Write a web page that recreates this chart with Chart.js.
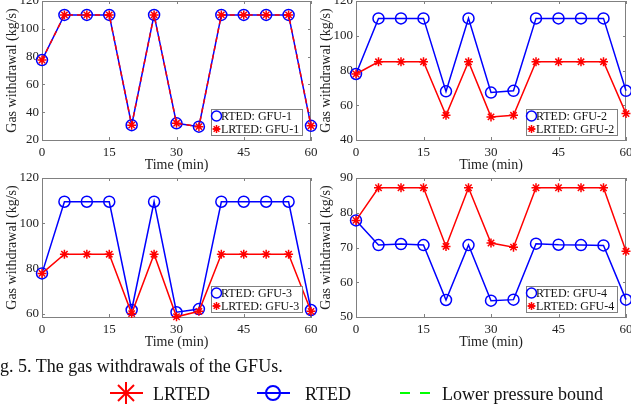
<!DOCTYPE html>
<html>
<head>
<meta charset="utf-8">
<script src="https://cdn.jsdelivr.net/npm/chart.js@4"></script>
<style>
  body { margin: 0; background: #fff; width: 631px; height: 410px; overflow: hidden; position: relative;
         font-family: 'Liberation Serif', 'Times New Roman', serif; color: #111; }
  canvas { position: absolute; }
  .txt { position: absolute; font-size: 18px; line-height: 18px; white-space: nowrap; }
  svg { position: absolute; left: 0; top: 0; }
</style>
</head>
<body>
<canvas id="c1" width="320" height="175" style="left:0;top:0"></canvas>
<canvas id="c2" width="317" height="175" style="left:314px;top:0"></canvas>
<canvas id="c3" width="320" height="184" style="left:0;top:168px"></canvas>
<canvas id="c4" width="317" height="184" style="left:314px;top:168px"></canvas>

<div class="txt" style="left:0;top:357px">g. 5. The gas withdrawals of the GFUs.</div>

<svg width="631" height="410">
  <g stroke="#ff0000" stroke-width="2">
    <line x1="110" y1="393" x2="143" y2="393"/>
    <line x1="126" y1="382" x2="126" y2="404"/>
    <line x1="118" y1="385" x2="134" y2="401"/>
    <line x1="118" y1="401" x2="134" y2="385"/>
  </g>
  <g stroke="#0000ff" stroke-width="2" fill="none">
    <line x1="257" y1="393" x2="290" y2="393"/>
    <circle cx="273" cy="393" r="7"/>
  </g>
  <g stroke="#00ff00" stroke-width="2">
    <line x1="400" y1="393" x2="410" y2="393"/>
    <line x1="420" y1="393" x2="430" y2="393"/>
  </g>
</svg>
<div class="txt" style="left:153px;top:385px">LRTED</div>
<div class="txt" style="left:305px;top:385px">RTED</div>
<div class="txt" style="left:442px;top:385px">Lower pressure bound</div>

<script>
// DATA
const times = [0, 5, 10, 15, 20, 25, 30, 35, 40, 45, 50, 55, 60];
const xTicks = [0, 15, 30, 45, 60];

const rted1  = [77.5, 110, 110, 110, 30.7, 110, 32, 29.6, 110, 110, 110, 110, 30.2];
const lrted1 = [77.5, 110, 110, 110, 30.7, 110, 32, 29.6, 110, 110, 110, 110, 30.2];
const yTicks1 = [20, 40, 60, 80, 100, 120];

const rted2  = [78, 110, 110, 110, 68, 110, 67.3, 68.3, 110, 110, 110, 110, 68.3];
const lrted2 = [78, 85, 85, 85, 54.2, 85, 53.3, 54.2, 85, 85, 85, 85, 55.2];
const yTicks2 = [40, 60, 80, 100, 120];

const rted3  = [77.8, 109.5, 109.5, 109.5, 61.6, 109.5, 60.6, 62, 109.5, 109.5, 109.5, 109.5, 61.6];
const lrted3 = [77.8, 86.3, 86.3, 86.3, 60, 86.3, 58.6, 61, 86.3, 86.3, 86.3, 86.3, 61];
const yTicks3 = [60, 80, 100, 120];

const rted4  = [77.8, 70.7, 71, 70.7, 54.9, 70.7, 54.7, 55, 71.1, 70.8, 70.7, 70.6, 55];
const lrted4 = [77.8, 87.2, 87.2, 87.2, 70.3, 87.2, 71.3, 70.1, 87.2, 87.2, 87.2, 87.2, 68.9];
const yTicks4 = [50, 60, 70, 80, 90];

// STYLE
const FONT = "'Liberation Serif', 'Times New Roman', serif";
const AXIS = "#808080";
Chart.defaults.font.family = FONT;
Chart.defaults.color = "#222";

// box round the plot and inward ticks on all four sides
const framePlugin = {
    id: "frame",
    beforeDatasetsDraw(chart) {
        const { ctx, chartArea: a, scales } = chart;
        ctx.save();
        ctx.strokeStyle = AXIS;
        ctx.lineWidth = 1;
        ctx.beginPath();
        ctx.moveTo(a.left, a.top + 0.5); ctx.lineTo(a.right, a.top + 0.5);
        ctx.moveTo(a.right - 0.5, a.top); ctx.lineTo(a.right - 0.5, a.bottom);
        scales.x.ticks.forEach(t => {
            const x = Math.round(scales.x.getPixelForValue(t.value)) + 0.5;
            ctx.moveTo(x, a.bottom); ctx.lineTo(x, a.bottom - 3);
            ctx.moveTo(x, a.top); ctx.lineTo(x, a.top + 3);
        });
        scales.y.ticks.forEach(t => {
            const y = Math.round(scales.y.getPixelForValue(t.value)) + 0.5;
            ctx.moveTo(a.left, y); ctx.lineTo(a.left + 3, y);
            ctx.moveTo(a.right, y); ctx.lineTo(a.right - 3, y);
        });
        ctx.stroke();
        ctx.restore();
    }
};

// legend box in the lower right corner of the plot
const boxLegendPlugin = {
    id: "boxLegend",
    afterDraw(chart, args, opts) {
        const { ctx, chartArea: a } = chart;
        const w = 92, h = 27;
        const x0 = a.right - 8 - w, y0 = a.bottom - 4 - h;
        ctx.save();
        ctx.fillStyle = "#fff";
        ctx.fillRect(x0, y0, w, h);
        ctx.strokeStyle = AXIS;
        ctx.lineWidth = 1;
        ctx.strokeRect(x0 + 0.5, y0 + 0.5, w - 1, h - 1);
        chart.data.datasets.slice().reverse().forEach((ds, i) => {
            const y = y0 + 7 + i * 13;
            const mx = x0 + 5.5;
            ctx.strokeStyle = ds.borderColor;
            ctx.lineWidth = 1.5;
            ctx.beginPath();
            ctx.moveTo(x0 + 2, y); ctx.lineTo(x0 + 9, y);
            ctx.stroke();
            Chart.helpers.drawPoint(ctx, { pointStyle: ds.pointStyle, radius: ds.pointRadius - 0.5, borderWidth: 1.5 }, mx, y);
            ctx.fillStyle = "#111";
            ctx.font = "12px " + FONT;
            ctx.textBaseline = "middle";
            ctx.fillText(opts.labels[i], x0 + 10, y + 0.5);
        });
        ctx.restore();
    }
};

function makeChart(id, rted, lrted, yMin, yMax, yTicks, gfu, padTop, padRight, dashed) {
    new Chart(document.getElementById(id), {
        type: "line",
        data: {
            datasets: [
                {
                    label: "LRTED: " + gfu,
                    data: times.map((t, i) => ({ x: t, y: lrted[i] })),
                    borderColor: "#ff0000",
                    backgroundColor: "#ff0000",
                    borderWidth: 1.5,
                    borderDash: dashed ? [5, 4] : [],
                    pointStyle: "star",
                    pointRadius: 4.5,
                    pointBorderWidth: 1.5,
                    tension: 0,
                    clip: false
                },
                {
                    label: "RTED: " + gfu,
                    data: times.map((t, i) => ({ x: t, y: rted[i] })),
                    borderColor: "#0000ff",
                    backgroundColor: "rgba(0,0,0,0)",
                    borderWidth: 1.5,
                    pointStyle: "circle",
                    pointRadius: 5.5,
                    pointBorderWidth: 1.5,
                    tension: 0,
                    clip: false
                }
            ]
        },
        options: {
            responsive: false,
            animation: false,
            devicePixelRatio: 1,
            layout: { autoPadding: false, padding: { top: padTop, right: padRight, left: 0, bottom: 0 } },
            plugins: {
                legend: { display: false },
                tooltip: { enabled: false },
                boxLegend: { labels: ["RTED: " + gfu, "LRTED: " + gfu] }
            },
            scales: {
                x: {
                    type: "linear", min: 0, max: 60,
                    grid: { display: false, drawTicks: false },
                    border: { display: true, color: AXIS, width: 1 },
                    afterBuildTicks: s => { s.ticks = xTicks.map(v => ({ value: v })); },
                    afterFit: s => { s.height = 35; s.paddingLeft = 0; s.paddingRight = 0; },
                    ticks: { padding: 5, font: { size: 13 }, maxRotation: 0 },
                    title: { display: true, text: "Time (min)", font: { size: 14 }, padding: { top: 0, bottom: 1 } }
                },
                y: {
                    type: "linear", min: yMin, max: yMax,
                    grid: { display: false, drawTicks: false },
                    border: { display: true, color: AXIS, width: 1 },
                    afterBuildTicks: s => { s.ticks = yTicks.map(v => ({ value: v })); },
                    afterFit: s => { s.width = 42; s.paddingTop = 0; s.paddingBottom = 0; },
                    ticks: { padding: 3, font: { size: 13 } },
                    title: { display: true, text: "Gas withdrawal (kg/s)", font: { size: 14 }, padding: { top: 4, bottom: 0 } }
                }
            }
        },
        plugins: [framePlugin, boxLegendPlugin]
    });
}

makeChart("c1", rted1, lrted1, 20, 120, yTicks1, "GFU-1", 1, 9, true);
makeChart("c2", rted2, lrted2, 40, 120, yTicks2, "GFU-2", 1, 5, false);
makeChart("c3", rted3, lrted3, 58.5, 120, yTicks3, "GFU-3", 10, 9, false);
makeChart("c4", rted4, lrted4, 50, 90, yTicks4, "GFU-4", 10, 5, false);
</script>
</body>
</html>
